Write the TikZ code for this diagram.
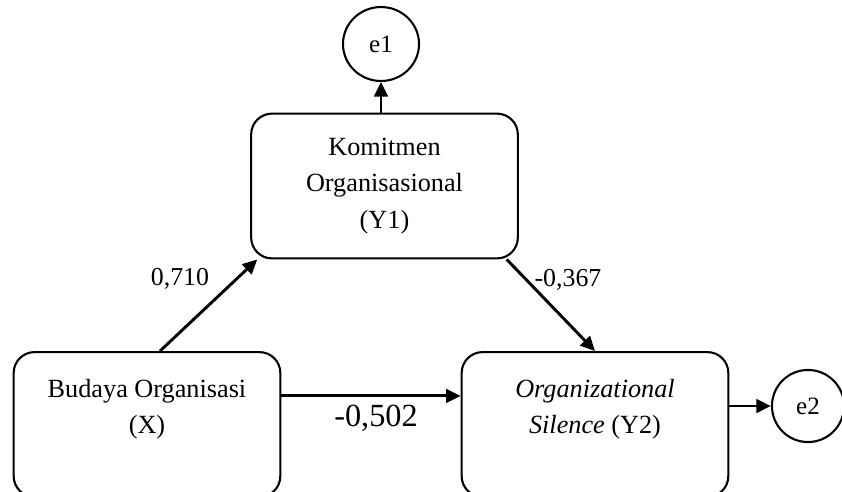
\documentclass[tikz,border=0pt]{standalone}
\usepackage{fontspec}
\setmainfont{Liberation Serif}
\usetikzlibrary{shapes.geometric, arrows.meta, positioning}
\tikzstyle{var} = [rectangle, draw, rounded corners=10pt, line width=1pt, inner sep=0pt, minimum width=128pt, minimum height=69.5pt, align=center, font=\fontsize{12.6}{17.5}\selectfont]
\tikzstyle{err} = [ellipse, draw, line width=1pt, inner sep=0pt, font=\fontsize{12}{14}\selectfont]
\tikzstyle{arrow} = [line width=1.4pt, -{Triangle[length=7pt, width=6.5pt]}]
\tikzstyle{coef} = [font=\fontsize{12.4}{14}\selectfont]

\begin{document}
\begin{tikzpicture}[x=0.48pt, y=-0.48pt]
\useasboundingbox (0,0) rectangle (842,491);
% variables
\node[var] (Y1) at (384.5,186) {Komitmen\\Organisasional\\(Y1)};
\node[var] (X) at (147,424.5) {Budaya Organisasi\\(X)\\~};
\node[var] (Y2) at (595,424.5) {\textit{Organizational}\\\textit{Silence} (Y2)\\~};
% error terms
\node[err, minimum width=36.5pt, minimum height=35.5pt] (e1) at (381,44) {e1};
\node[err, minimum width=34.6pt, minimum height=34.6pt] (e2) at (808,406) {e2};
% arrows
\draw[arrow] (X.80) -- (Y1.210);
\draw[arrow] (Y1.329) -- (Y2.north);
\draw[arrow] (X.12) -- (X.12 -| Y2.west);
\draw[arrow] (e1.south |- Y1.north) -- (e1.south);
\draw[arrow] (Y2.east |- e2.west) -- (e2.west);
% coefficients
\node[coef] (c1) at (180,279) {0,710};
\node[coef] (c2) at (568,280) {-0,367};
\node[font=\fontsize{15.5}{17}\selectfont] (c3) at (376,418) {-0,502};
\end{tikzpicture}
\end{document}
